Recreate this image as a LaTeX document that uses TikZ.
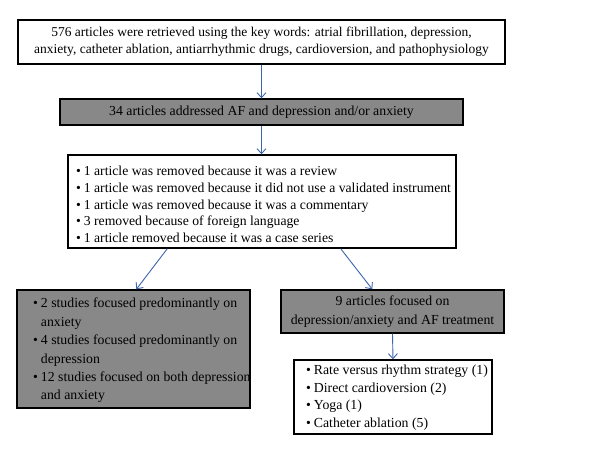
\documentclass[tikz,border=0pt]{standalone}
\usepackage{fontspec}
\setmainfont{Liberation Serif}
\usepackage{tikz}
\usetikzlibrary{arrows.meta, positioning}
\definecolor{flowblue}{RGB}{60, 100, 170}
\definecolor{boxgray}{RGB}{136, 136, 136}
\newcommand{\bl}{\makebox[0.56em][l]{\textbullet}}
\newcommand{\ind}{\hspace*{0.56em}}

\begin{document}
\begin{tikzpicture}[x=1pt, y=-1pt,
    every node/.style={font=\fontsize{13.8}{17.2}\selectfont},
    plainbox/.style={draw=black, line width=1.4pt, fill=white, inner sep=0pt},
    graybox/.style={plainbox, fill=boxgray},
    listtext/.style={anchor=north west, inner sep=0pt, align=left},
    flowarrow/.style={draw=flowblue, line width=0.9pt, -{Straight Barb[length=5pt, width=9pt]}}]
    \useasboundingbox (0,0) rectangle (600,455);

    % -- search and first screening --------------------------------------
    \node[plainbox, minimum width=487pt, minimum height=44pt, align=center,
    font=\fontsize{13.5}{17}\selectfont]
    (search) at (261.5, 42) {576 articles were retrieved using the key words: atrial fibrillation, depression,\\anxiety, catheter ablation, antiarrhythmic drugs, cardioversion, and pathophysiology};

    \node[graybox, minimum width=403pt, minimum height=26pt]
    (addressed) at (261.5, 112) {34 articles addressed AF and depression and/or anxiety};

    % -- removed articles --------------------------------------------------
    \node[plainbox, minimum width=388pt, minimum height=93pt] (removed) at (262, 201.5) {};
    \node[listtext, font=\fontsize{13.7}{16.9}\selectfont]
    (removedtext) at (76, 165.5) {\bl 1 article was removed because it was a review\\
        \bl 1 article was removed because it did not use a validated instrument\\
        \bl 1 article was removed because it was a commentary\\
        \bl 3 removed because of foreign language\\
        \bl 1 article removed because it was a case series};

    % -- split into the two branches ---------------------------------------
    \node[graybox, minimum width=233pt, minimum height=118pt] (studies) at (133.5, 349) {};
    \node[listtext, font=\fontsize{13.8}{18.4}\selectfont]
    (studiestext) at (33, 298) {\bl 2 studies focused predominantly on\\
        \ind anxiety\\
        \bl 4 studies focused predominantly on\\
        \ind depression\\
        \bl 12 studies focused on both depression\\
        \ind and anxiety};

    \node[graybox, minimum width=223pt, minimum height=43pt, align=center,
    font=\fontsize{13.8}{19}\selectfont]
    (treatment) at (392.5, 311.5) {9 articles focused on\\depression/anxiety and AF treatment};

    \node[plainbox, minimum width=198pt, minimum height=74pt] (kinds) at (393, 397) {};
    \node[listtext, font=\fontsize{13.8}{17.6}\selectfont]
    (kindstext) at (306, 365) {\bl Rate versus rhythm strategy (1)\\
        \bl Direct cardioversion (2)\\
        \bl Yoga (1)\\
        \bl Catheter ablation (5)};

    % -- connectors ---------------------------------------------------------
    \draw[flowarrow] (search.south) -- (search.south |- addressed.north);
    \draw[flowarrow] (addressed.south) -- (addressed.south |- removed.north);
    \draw[flowarrow] ([xshift=100pt]removed.south west) -- ([xshift=120pt]studies.north west);
    \draw[flowarrow] ([xshift=-116pt]removed.south east) -- ([xshift=92pt]treatment.north west);
    \draw[flowarrow] (treatment.south) -- (kinds.north);
\end{tikzpicture}
\end{document}
